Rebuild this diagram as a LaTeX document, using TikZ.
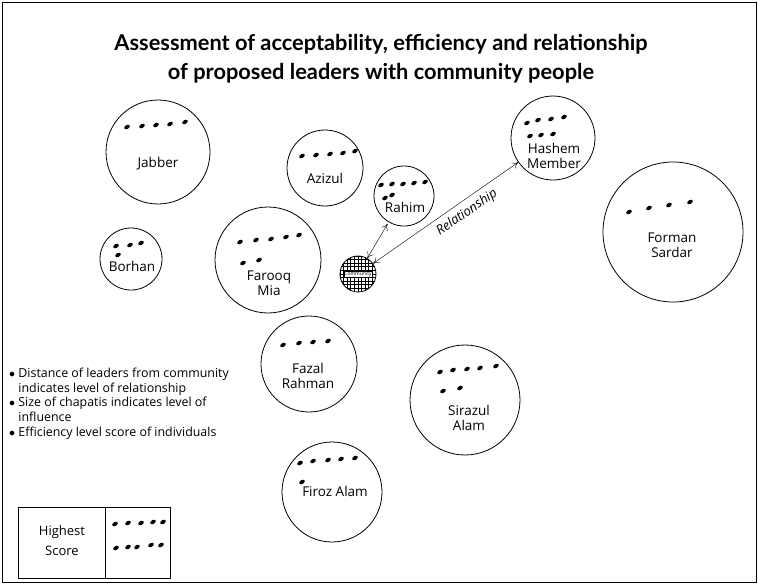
\documentclass[tikz,border=0pt]{standalone}
\usepackage{fontspec}
\setmainfont{Open Sans}
\newfontfamily\headfont{Lato}
\usetikzlibrary{arrows.meta}

\tikzset{
  leader/.style={draw, circle, thick, inner sep=0pt},
  who/.style={font=\fontsize{13.5}{14.5}\selectfont, align=center, inner sep=0pt},
  rel/.style={thin, {To[length=6pt,width=7pt]}-{To[length=6pt,width=7pt]}},
  note/.style={font=\fontsize{12.4}{14.6}\selectfont, align=left, anchor=north west, inner sep=0pt}
}

% one chapati per point, slanted
\newcommand{\spots}[1]{\foreach \p in {#1} \fill \p circle[x radius=3, y radius=2, rotate=30];}

\begin{document}
\begin{tikzpicture}[x=1pt, y=-1pt]

\useasboundingbox (0,0) rectangle (758,584);
\draw[thick] (2,2) rectangle (756,582);

% title
\node[font=\headfont\bfseries\fontsize{21.8}{29}\selectfont, align=center] (title) at (381,59)
  {Assessment of acceptability, efficiency and relationship\\of proposed leaders with community people};

% leaders, chapati size = influence
\node[leader, minimum size=104] (jabber)  at (158,152) {};
\node[leader, minimum size=76]  (azizul)  at (325,168) {};
\node[leader, minimum size=60]  (rahim)   at (404,196) {};
\node[leader, minimum size=84]  (hashem)  at (553,138) {};
\node[leader, minimum size=140] (forman)  at (673,232) {};
\node[leader, minimum size=62]  (borhan)  at (131,259) {};
\node[leader, minimum size=106] (farooq)  at (268,260) {};
\node[leader, minimum size=96]  (fazal)   at (309,364) {};
\node[leader, minimum size=110] (sirazul) at (465,400) {};
\node[leader, minimum size=100] (firoz)   at (332,492) {};

\node[who] (jabber-n)  at (158,164) {Jabber};
\node[who] (azizul-n)  at (325,178) {Azizul};
\node[who] (rahim-n)   at (405,207) {Rahim};
\node[who] (hashem-n)  at (554,156) {Hashem\\Member};
\node[who] (forman-n)  at (672,245) {Forman\\Sardar};
\node[who] (borhan-n)  at (132,266) {Borhan};
\node[who] (farooq-n)  at (269,283) {Farooq\\Mia};
\node[who] (fazal-n)   at (308,376) {Fazal\\Rahman};
\node[who] (sirazul-n) at (469,418) {Sirazul\\Alam};
\node[who] (firoz-n)   at (335,491) {Firoz Alam};

% efficiency scores
\spots{(127,127),(142,126),(156,125),(170,124),(185,122)}
\spots{(302,156),(316,155),(330,154),(343,153),(355,151)}
\spots{(381,185),(392,184),(403,184),(414,183),(425,182),(385,198),(392,195)}
\spots{(527,123),(538,120),(551,119),(564,117),(530,136),(541,135),(553,134)}
\spots{(629,212),(649,208),(669,205),(690,202)}
\spots{(116,246),(130,245),(141,243),(118,255)}
\spots{(240,242),(256,240),(271,239),(286,237),(299,235),(243,263),(259,260)}
\spots{(283,345),(299,343),(313,342),(328,341)}
\spots{(440,372),(453,370),(467,369),(480,368),(496,366),(443,391),(460,388)}
\spots{(300,463),(313,461),(328,460),(341,459),(355,458),(302,482)}

% community
\node[draw, circle, thick, minimum size=36, inner sep=0pt] (community) at (358,274) {};
\begin{scope}
  \clip (358,274) circle (18);
  \foreach \k in {0,...,12} {
    \draw[very thin] (336+\k*3.6,252) -- (336+\k*3.6,296);
    \draw[very thin] (336,252+\k*3.6) -- (380,252+\k*3.6);
  }
\end{scope}
\node[fill=white, draw, very thin, inner sep=0.6pt, font=\fontsize{5}{5}\selectfont] (community-n) at (358,274) {Community};

% relationship
\draw[rel] (community) -- (hashem)
  node[pos=0.6, below=2pt, sloped, font=\itshape\fontsize{13}{14}\selectfont] {Relationship};
\draw[rel, shorten <=2pt] (rahim) -- (community);

% notes
\node[note] (notes) at (9,368) {%
  $\bullet$\ Distance of leaders from community\\
  \phantom{$\bullet$\ }indicates level of relationship\\
  $\bullet$\ Size of chapatis indicates level of\\
  \phantom{$\bullet$\ }influence\\
  $\bullet$\ Efficiency level score of individuals};

% highest score box
\draw[thick] (18,507) rectangle (170,578);
\draw[thick] (105,507) -- (105,578);
\node[who, font=\fontsize{13}{20}\selectfont] (highest) at (62,541) {Highest\\Score};
\spots{(115,524),(128,523),(141,523),(153,522),(163,522)}
\spots{(116,548),(128,547),(137,547),(151,545),(161,545)}

\end{tikzpicture}
\end{document}
